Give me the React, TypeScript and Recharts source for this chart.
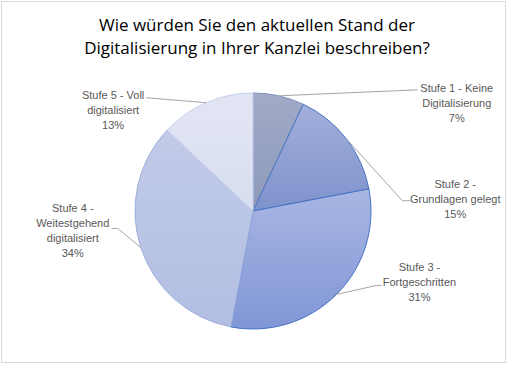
import React from "react"
import { PieChart, Pie, Cell } from "recharts"

const stages = [
  "Stufe 1 - Keine|Digitalisierung",
  "Stufe 2  -|Grundlagen gelegt",
  "Stufe 3 -|Fortgeschritten",
  "Stufe 4 -|Weitestgehend|digitalisiert",
  "Stufe 5 - Voll|digitalisiert",
]
const shares = [7, 15, 31, 34, 13]

const data = stages.map((name, i) => ({ name, value: shares[i] }))

// gradient stops per slice (top, bottom) and outline colour
const fills = [
  ["#a1abc8", "#8e99b9"],
  ["#a3afdc", "#7e92cb"],
  ["#a9b6e3", "#8096d5"],
  ["#c2cbe8", "#b2bee2"],
  ["#e2e6f4", "#d8ddef"],
]
const strokes = ["#7d8fc0", "#4472c4", "#4472c4", "#9fb0de", "#c6cfec"]

// label block centre + leader bend, relative to the edge point of each slice
const labelOffset = [
  { dx: 178, dy: 7, lx: 139, ly: -6, kx: 139 },
  { dx: 109, dy: 60, lx: 56, ly: 62, kx: 64 },
  { dx: 83, dy: -12, lx: 40, ly: -9, kx: 45 },
  { dx: -68, dy: -17, lx: -23, ly: -19, kx: -29 },
  { dx: -93, dy: 7, lx: -60, ly: -5, kx: -60 },
]

const RAD = Math.PI / 180
const LINE = 15

const renderLabel = (props: any) => {
  const { cx, cy, midAngle, outerRadius, index, name, percent } = props
  const x0 = cx + outerRadius * Math.cos(-midAngle * RAD)
  const y0 = cy + outerRadius * Math.sin(-midAngle * RAD)
  const o = labelOffset[index]
  const lines = [...String(name).split("|"), `${Math.round(percent * 100)}%`]
  const tx = x0 + o.dx
  const ty = y0 + o.dy - ((lines.length - 1) * LINE) / 2
  return (
    <g>
      <polyline
        points={`${x0},${y0} ${x0 + o.lx},${y0 + o.ly} ${x0 + o.kx},${y0 + o.ly}`}
        fill="none"
        stroke="#a6a6a6"
        strokeWidth={1}
      />
      <text x={tx} y={ty} textAnchor="middle" fill="#595959" fontSize={11} fontFamily="'Liberation Sans', Arial, sans-serif">
        {lines.map((l, i) => (
          <tspan key={i} x={tx} dy={i === 0 ? 4 : LINE}>
            {l}
          </tspan>
        ))}
      </text>
    </g>
  )
}

export default function App() {
  return (
    <div style={{ position: "absolute", left: 0, top: 0, width: 509, height: 366, background: "#fff" }}>
      <div
        style={{
          position: "absolute",
          left: 1,
          top: 1,
          width: 503,
          height: 360,
          border: "1px solid #d9d9d9",
        }}
      />
      <div
        style={{
          position: "absolute",
          left: 0,
          top: 13,
          width: 514,
          textAlign: "center",
          fontFamily: "'Open Sans', sans-serif",
          fontSize: 17,
          lineHeight: "23px",
          color: "#000",
        }}
      >
        Wie würden Sie den aktuellen Stand der
        <br />
        Digitalisierung in Ihrer Kanzlei beschreiben?
      </div>
      <div style={{ position: "absolute", left: 0, top: 0 }}>
        <PieChart width={509} height={366} margin={{ top: 0, right: 0, bottom: 0, left: 0 }}>
          <defs>
            {fills.map((f, i) => (
              <linearGradient key={i} id={`slice${i}`} x1="0" y1="0" x2="0" y2="1">
                <stop offset="0%" stopColor={f[0]} />
                <stop offset="100%" stopColor={f[1]} />
              </linearGradient>
            ))}
          </defs>
          <Pie
            data={data}
            dataKey="value"
            nameKey="name"
            cx={253}
            cy={211}
            outerRadius={118}
            startAngle={90}
            endAngle={-270}
            label={renderLabel}
            labelLine={false}
            isAnimationActive={false}
          >
            {data.map((_, i) => (
              <Cell key={i} fill={`url(#slice${i})`} stroke={strokes[i]} strokeWidth={1} />
            ))}
          </Pie>
        </PieChart>
      </div>
    </div>
  )
}
